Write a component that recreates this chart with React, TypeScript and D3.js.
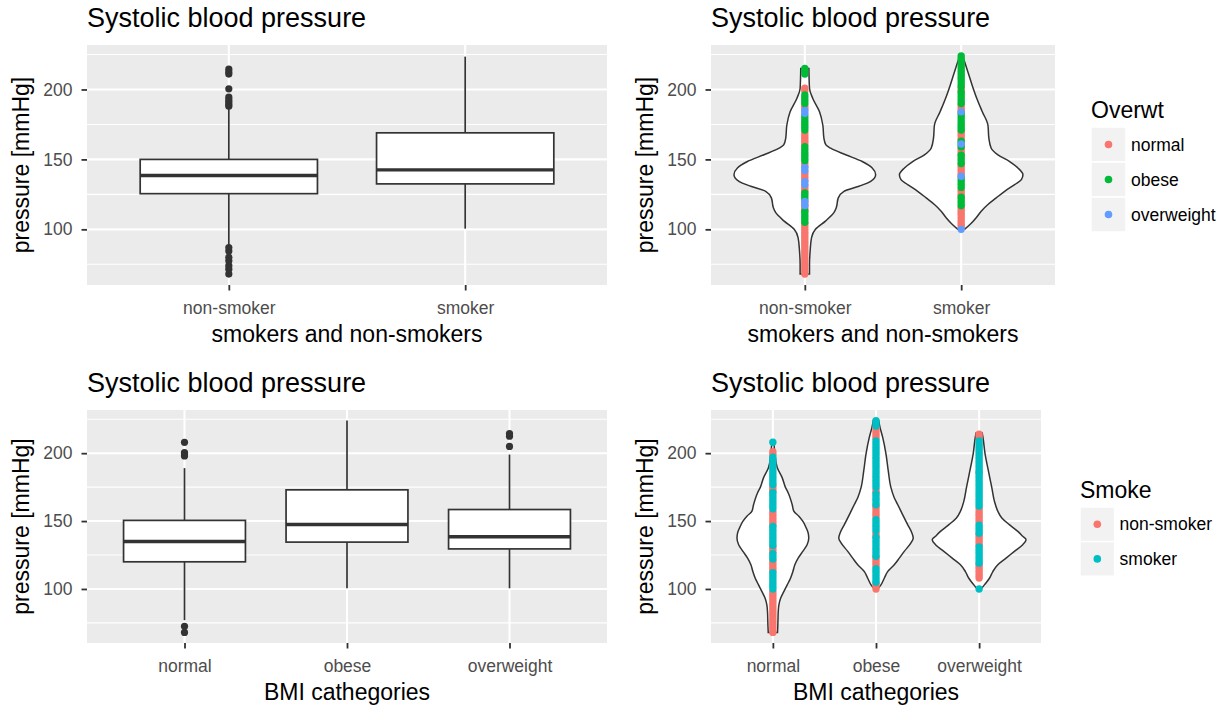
import React, { useEffect, useRef } from 'react';
import * as d3 from 'd3';

const WIDTH = 1229;
const HEIGHT = 708;
const FONT = "'Liberation Sans', Arial, sans-serif";

// categories
const smokeCats = ['non-smoker', 'smoker'];
const bmiCats = ['normal', 'obese', 'overweight'];
const overwtGroups = ['normal', 'obese', 'overweight'];
const overwtColors = ['#F8766D', '#00BA38', '#619CFF'];
const smokeGroups = ['non-smoker', 'smoker'];
const smokeColors = ['#F8766D', '#00BFC4'];

// y axis
const pressureExtent = [68, 224];
const majorTicks = [100, 150, 200];
const minorTicks = [75, 125, 175, 225];

// boxplot stats: [lower whisker, q1, median, q3, upper whisker]
const smokeBoxStats = [
  [88, 125.5, 138.5, 150, 187],
  [100.5, 132.5, 142.5, 169, 223.5],
];
const smokeOutliers = [
  [68, 71.5, 74, 77.5, 80, 84.5, 87, 188, 189.5, 191, 192.5, 194.5, 200.5, 211, 212.5, 214.5],
  [],
];
const bmiBoxStats = [
  [77, 120, 135, 150.5, 189],
  [100.5, 134.5, 147.5, 173, 224],
  [100.5, 129.5, 138.5, 158.5, 199],
];
const bmiOutliers = [
  [68, 72.5, 198, 199.5, 200.5, 208],
  [],
  [205, 212.5, 214.5],
];

// violin outlines: [pressure, half width in category units]
const smokeViolins = [
  [[68, 0.03], [75, 0.03], [84.6, 0.034], [94.1, 0.043], [100, 0.068], [105.9, 0.132], [111.9, 0.186],
   [115.4, 0.201], [122.5, 0.214], [127.2, 0.25], [130.8, 0.346], [134.3, 0.421], [139.1, 0.453],
   [143.9, 0.431], [148.5, 0.367], [153.3, 0.261], [158, 0.165], [160.4, 0.135], [165.2, 0.122],
   [174.6, 0.115], [184.1, 0.094], [193.6, 0.051], [200.7, 0.03], [215, 0.026]],
  [[100, 0.021], [103.6, 0.058], [108.3, 0.096], [113, 0.128], [117.8, 0.171], [122.5, 0.224],
   [127.2, 0.278], [132, 0.342], [135.5, 0.385], [139.1, 0.395], [143.9, 0.363], [148.5, 0.31],
   [153.3, 0.235], [158, 0.192], [165.2, 0.177], [174.6, 0.171], [184.1, 0.135], [193.6, 0.1],
   [203.1, 0.07], [212.5, 0.043], [222, 0.015], [224, 0.008]],
];
const bmiViolins = [
  [[68, 0.045], [73.3, 0.048], [83.2, 0.052], [88.1, 0.058], [93.1, 0.075], [98, 0.106], [103, 0.139],
   [107.9, 0.171], [112.8, 0.194], [117.8, 0.213], [122.7, 0.245], [127.7, 0.29], [132.6, 0.332],
   [137.6, 0.348], [141.3, 0.342], [145, 0.323], [149.9, 0.29], [153.6, 0.252], [157.3, 0.203],
   [162.2, 0.187], [170.9, 0.148], [174.6, 0.123], [182, 0.09], [189.4, 0.042], [199.3, 0.02], [208, 0.01]],
  [[100, 0.016], [103, 0.048], [107.9, 0.08], [112.8, 0.113], [117.8, 0.177], [122.7, 0.226],
   [127.7, 0.274], [133.9, 0.339], [137.6, 0.361], [141.3, 0.348], [147.4, 0.307], [154.8, 0.258],
   [162.2, 0.21], [167.2, 0.177], [174.6, 0.145], [186.9, 0.119], [199.3, 0.097], [211.6, 0.065],
   [219, 0.039], [224, 0.026]],
  [[100, 0.019], [103, 0.051], [107.9, 0.1], [112.8, 0.133], [117.8, 0.181], [122.7, 0.261],
   [127.7, 0.342], [132.6, 0.423], [136.3, 0.455], [138.8, 0.423], [142.4, 0.375], [147.4, 0.293],
   [152.3, 0.22], [157.3, 0.181], [164.7, 0.148], [174.6, 0.123], [186.9, 0.09], [199.3, 0.058],
   [212.8, 0.035], [214.8, 0.03]],
];

// points on the violins, per category then per colour group
const smokePoints = [
  [
    [68, 70, 72, 74, 76, 78, 80, 82, 84, 86, 88, 90, 92, 94, 96, 98, 100, 102, 104, 114, 116, 118, 120,
     127, 129, 131, 135, 137, 139, 141, 145, 147, 161, 163, 165, 167, 169, 186, 188, 199, 201],
    [105, 107, 109, 111, 113, 122, 124, 126, 149, 151, 153, 155, 157, 159, 171, 173, 175, 177, 179, 181,
     190, 192, 194, 196, 211, 213, 215],
    [117, 120, 132, 134, 142, 144, 183, 185],
  ],
  [
    [101.5, 103.5, 105.5, 107.5, 109.5, 111.5, 113.5, 115.5, 124, 126, 128, 138, 140, 142, 144, 146,
     154, 156, 158, 164, 166, 168, 170, 185, 187, 189, 199, 201],
    [117, 119, 121, 123, 130, 132, 134, 136, 147, 149, 151, 153, 159, 161, 163, 171, 173, 175, 177,
     179, 181, 183, 190, 192, 194, 196, 198, 202, 204, 206, 208, 210, 212, 214, 216, 218, 220, 222, 224],
    [100, 138, 161, 184],
  ],
];
const bmiPoints = [
  [
    [68, 70, 72, 74, 76, 78, 80, 82, 84, 86, 88, 90, 92, 94, 96, 98, 113, 115, 117, 119, 121, 127, 129,
     131, 147, 149, 151, 153, 155, 157, 172, 174, 176, 199, 201],
    [100, 102, 104, 106, 108, 110, 112, 122, 124, 126, 132, 134, 136, 138, 140, 142, 144, 146, 159, 161,
     163, 165, 167, 169, 171, 177, 179, 181, 183, 185, 187, 189, 191, 193, 195, 197, 208],
  ],
  [
    [100, 102, 104, 117, 119, 121, 123, 139, 141, 153, 155, 157, 159, 161, 171, 173, 211, 213, 215, 217, 219],
    [105, 107, 109, 111, 113, 115, 124, 126, 128, 130, 132, 134, 136, 138, 143, 145, 147, 149, 151,
     162, 164, 166, 168, 170, 175, 177, 179, 181, 183, 185, 187, 189, 191, 193, 195, 197, 199, 201,
     203, 205, 207, 209, 220, 222, 224],
  ],
  [
    [108, 110, 112, 114, 116, 118, 132, 134, 136, 138, 140, 149, 151, 153, 155, 157, 159, 186, 212, 214],
    [100, 119, 121, 123, 125, 127, 129, 131, 141, 143, 145, 147, 161, 163, 165, 167, 169, 171, 173,
     175, 177, 179, 181, 183, 185, 187, 189, 191, 193, 195, 197, 199, 201, 203, 205, 207, 209],
  ],
];

type Frame = { x0: number; x1: number; y0: number; y1: number };

const drawFrame = (svg: any, f: Frame, cats: string[], xTitle: string) => {
  const pad = (pressureExtent[1] - pressureExtent[0]) * 0.05;
  const y = d3.scaleLinear()
    .domain([pressureExtent[0] - pad, pressureExtent[1] + pad])
    .range([f.y1, f.y0]);
  const x = d3.scaleLinear()
    .domain([0.4, cats.length + 0.6])
    .range([f.x0, f.x1]);

  // panel background + grid
  svg.append('rect')
    .attr('x', f.x0).attr('y', f.y0)
    .attr('width', f.x1 - f.x0).attr('height', f.y1 - f.y0)
    .attr('fill', '#EBEBEB');

  svg.append('g').selectAll('line')
    .data(minorTicks.filter(v => y(v) >= f.y0 && y(v) <= f.y1))
    .enter().append('line')
    .attr('x1', f.x0).attr('x2', f.x1)
    .attr('y1', d => y(d)).attr('y2', d => y(d))
    .attr('stroke', '#fff').attr('stroke-width', 1.1);

  svg.append('g').selectAll('line')
    .data(majorTicks)
    .enter().append('line')
    .attr('x1', f.x0).attr('x2', f.x1)
    .attr('y1', d => y(d)).attr('y2', d => y(d))
    .attr('stroke', '#fff').attr('stroke-width', 2.1);

  svg.append('g').selectAll('line')
    .data(cats.map((_, i) => i + 1))
    .enter().append('line')
    .attr('x1', d => x(d)).attr('x2', d => x(d))
    .attr('y1', f.y0).attr('y2', f.y1)
    .attr('stroke', '#fff').attr('stroke-width', 2.1);

  // title
  svg.append('text')
    .attr('x', f.x0).attr('y', f.y0 - 18)
    .style('font-family', FONT).style('font-size', '27px')
    .attr('fill', '#000')
    .text('Systolic blood pressure');

  // y axis
  const yAxis = d3.axisLeft(y).tickValues(majorTicks).tickSize(5.5).tickPadding(9);
  const ay = svg.append('g').attr('transform', `translate(${f.x0},0)`).call(yAxis);
  ay.select('.domain').remove();
  ay.selectAll('line').attr('stroke', '#333').attr('stroke-width', 1.8);
  ay.selectAll('text')
    .attr('fill', '#4D4D4D')
    .style('font-family', FONT).style('font-size', '17.5px');

  // x axis
  const xAxis = d3.axisBottom(x)
    .tickValues(cats.map((_, i) => i + 1))
    .tickFormat((d: any) => cats[d - 1])
    .tickSize(5.5);
  const ax = svg.append('g').attr('transform', `translate(0,${f.y1})`).call(xAxis);
  ax.select('.domain').remove();
  ax.selectAll('line').attr('stroke', '#333').attr('stroke-width', 1.8);
  ax.selectAll('text')
    .attr('y', 28.5).attr('dy', null)
    .attr('fill', '#4D4D4D')
    .style('font-family', FONT).style('font-size', '17.5px');

  // axis titles
  svg.append('text')
    .attr('x', (f.x0 + f.x1) / 2).attr('y', f.y1 + 57)
    .attr('text-anchor', 'middle')
    .style('font-family', FONT).style('font-size', '23px')
    .text(xTitle);

  svg.append('text')
    .attr('transform', `translate(${f.x0 - 58.5},${(f.y0 + f.y1) / 2}) rotate(-90)`)
    .attr('text-anchor', 'middle')
    .style('font-family', FONT).style('font-size', '23px')
    .text('pressure [mmHg]');

  return { x, y };
};

const drawBoxes = (svg: any, x: any, y: any, stats: number[][], outliers: number[][]) => {
  const half = 0.375;
  stats.forEach((s, i) => {
    const cx = x(i + 1);
    const g = svg.append('g');
    g.append('line').attr('x1', cx).attr('x2', cx).attr('y1', y(s[0])).attr('y2', y(s[1]))
      .attr('stroke', '#333').attr('stroke-width', 1.7);
    g.append('line').attr('x1', cx).attr('x2', cx).attr('y1', y(s[3])).attr('y2', y(s[4]))
      .attr('stroke', '#333').attr('stroke-width', 1.7);
    g.append('rect')
      .attr('x', x(i + 1 - half)).attr('width', x(i + 1 + half) - x(i + 1 - half))
      .attr('y', y(s[3])).attr('height', y(s[1]) - y(s[3]))
      .attr('fill', '#fff').attr('stroke', '#333').attr('stroke-width', 1.7);
    g.append('line')
      .attr('x1', x(i + 1 - half)).attr('x2', x(i + 1 + half))
      .attr('y1', y(s[2])).attr('y2', y(s[2]))
      .attr('stroke', '#333').attr('stroke-width', 3.4);
    g.selectAll('circle').data(outliers[i]).enter().append('circle')
      .attr('cx', cx).attr('cy', (d: number) => y(d)).attr('r', 3.6)
      .attr('fill', '#333');
  });
};

const drawViolins = (svg: any, x: any, y: any, profiles: number[][][], points: number[][][], colors: string[]) => {
  const unit = x(1) - x(0);
  profiles.forEach((prof, i) => {
    const cx = x(i + 1);
    const area = d3.area<number[]>()
      .y(d => y(d[0]))
      .x0(d => cx - d[1] * unit)
      .x1(d => cx + d[1] * unit)
      .curve(d3.curveMonotoneY);
    svg.append('path')
      .attr('d', area(prof))
      .attr('fill', '#fff').attr('stroke', '#333').attr('stroke-width', 1.5);
  });
  points.forEach((groups, i) => {
    const cx = x(i + 1);
    groups.forEach((vals, j) => {
      svg.append('g').selectAll('circle').data(vals).enter().append('circle')
        .attr('cx', cx).attr('cy', (d: number) => y(d)).attr('r', 3.7)
        .attr('fill', colors[j]);
    });
  });
};

const drawLegend = (svg: any, x0: number, titleY: number, keyTop: number, key: number,
  title: string, labels: string[], colors: string[]) => {
  svg.append('text')
    .attr('x', x0).attr('y', titleY)
    .style('font-family', FONT).style('font-size', '23px')
    .text(title);
  labels.forEach((lab, i) => {
    const top = keyTop + i * key;
    svg.append('rect')
      .attr('x', x0).attr('y', top).attr('width', key).attr('height', key)
      .attr('fill', '#F2F2F2').attr('stroke', '#fff').attr('stroke-width', 1.5);
    svg.append('circle')
      .attr('cx', x0 + key / 2).attr('cy', top + key / 2).attr('r', 3.8)
      .attr('fill', colors[i]);
    svg.append('text')
      .attr('x', x0 + key + 5).attr('y', top + key / 2 + 6)
      .style('font-family', FONT).style('font-size', '17.5px')
      .text(lab);
  });
};

const App: React.FC = () => {
  const svgRef = useRef<SVGSVGElement>(null);

  useEffect(() => {
    document.body.style.margin = '0';
    if (!svgRef.current) return;
    const svg = d3.select(svgRef.current);
    svg.selectAll('*').remove();

    svg.append('rect').attr('width', WIDTH).attr('height', HEIGHT).attr('fill', '#fff');

    // top left: boxplot by smoking
    const a = drawFrame(svg, { x0: 87, x1: 607, y0: 45, y1: 285 }, smokeCats, 'smokers and non-smokers');
    drawBoxes(svg, a.x, a.y, smokeBoxStats, smokeOutliers);

    // top right: violin by smoking, coloured by weight
    const b = drawFrame(svg, { x0: 711, x1: 1055, y0: 45, y1: 285 }, smokeCats, 'smokers and non-smokers');
    drawViolins(svg, b.x, b.y, smokeViolins, smokePoints, overwtColors);
    drawLegend(svg, 1091, 118, 127, 35, 'Overwt', overwtGroups, overwtColors);

    // bottom left: boxplot by BMI
    const c = drawFrame(svg, { x0: 87, x1: 607, y0: 410, y1: 643 }, bmiCats, 'BMI cathegories');
    drawBoxes(svg, c.x, c.y, bmiBoxStats, bmiOutliers);

    // bottom right: violin by BMI, coloured by smoking
    const d = drawFrame(svg, { x0: 711, x1: 1041, y0: 410, y1: 643 }, bmiCats, 'BMI cathegories');
    drawViolins(svg, d.x, d.y, bmiViolins, bmiPoints, smokeColors);
    drawLegend(svg, 1080, 498, 507, 34.6, 'Smoke', smokeGroups, smokeColors);
  }, []);

  return <svg ref={svgRef} width={WIDTH} height={HEIGHT} style={{ display: 'block' }} />;
};

export default App;
